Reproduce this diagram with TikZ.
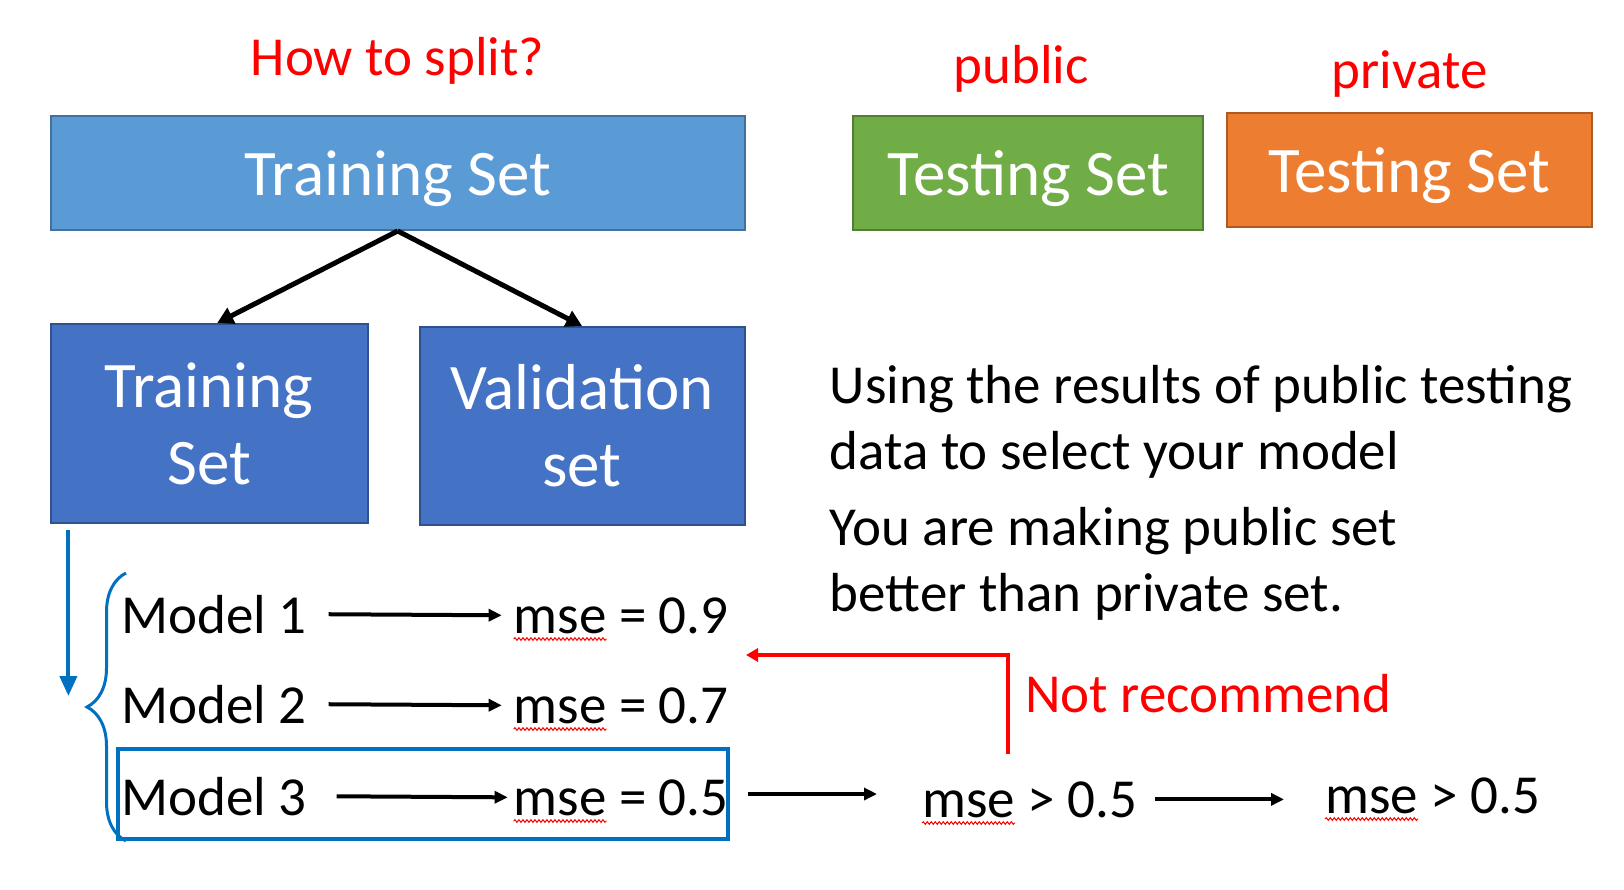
\documentclass[tikz,border=0pt]{standalone}
\usepackage{fontspec}
\setmainfont{Carlito}
\usepackage{tikz}
\usetikzlibrary{arrows.meta,positioning,decorations.pathreplacing,decorations.pathmorphing}
\definecolor{tsblue}{HTML}{5B9BD5}
\definecolor{tsedge}{HTML}{41719C}
\definecolor{spblue}{HTML}{4472C4}
\definecolor{spedge}{HTML}{2F528F}
\definecolor{pubgreen}{HTML}{70AD47}
\definecolor{pubedge}{HTML}{507E32}
\definecolor{prvorange}{HTML}{ED7D31}
\definecolor{prvedge}{HTML}{AE5A21}
\definecolor{selblue}{HTML}{0070C0}
\tikzset{
  tset/.style   = {rectangle, draw=tsedge, line width=2pt, fill=tsblue, text=white,
                   align=center, font=\fontsize{65}{77}\selectfont, inner sep=0pt},
  tsplit/.style = {tset, draw=spedge, fill=spblue},
  tpub/.style   = {tset, draw=pubedge, fill=pubgreen},
  tprv/.style   = {tset, draw=prvedge, fill=prvorange},
  lbl/.style    = {text=red, font=\fontsize{55}{66}\selectfont, inner sep=0pt},
  mtxt/.style   = {font=\fontsize{55}{66}\selectfont, inner sep=0pt, anchor=base west},
  txt/.style    = {font=\fontsize{55}{66}\selectfont, inner sep=0pt, align=left, anchor=base west},
  selbox/.style = {rectangle, draw=selblue, line width=4pt},
  fl/.style     = {-{Triangle[length=16pt,width=17pt]}, line width=5pt, black},
  fs/.style     = {-{Triangle[length=13pt,width=12pt]}, line width=4pt, black},
  flb/.style    = {-{Triangle[length=20pt,width=17pt]}, line width=4pt, selblue},
  flr/.style    = {-{Triangle[length=12pt,width=13pt]}, line width=4pt, red},
  brc/.style    = {decorate, decoration={brace, amplitude=39pt}, line width=3pt, selblue},
  sq/.style     = {decorate, decoration={snake, amplitude=1.3pt, segment length=4pt}, line width=1pt, red},
}
\begin{document}
\begin{tikzpicture}[x=1pt, y=-1pt]
  \useasboundingbox (0,0) rectangle (1624,889);

  \node[tset, text depth=0pt, minimum width=694pt, minimum height=114pt] (top) at (397.7,173) {Training Set};
  \node[lbl, above=30pt of top] (how) {How to split?};

  \node[tsplit, minimum width=317pt, minimum height=199pt] (trn) at (209.2,423.5) {Training\\ Set};
  \node[tsplit, minimum width=325pt, minimum height=198pt] (val) at (582.1,426) {Validation\\ set};

  \node[tpub, text depth=0pt, minimum width=350pt, minimum height=114pt] (pub) at (1028.3,173) {Testing Set};
  \node[tprv, text depth=0pt, minimum width=365pt, minimum height=114pt] (prv) at (1409.5,170) {Testing Set};
  \node[lbl, above=22pt of pub, xshift=-7pt] (publbl) {public};
  \node[lbl, above=14pt of prv] (prvlbl) {private};

  \node[txt] (par1) at (829.6,469) {Using the results of public testing\\ data to select your model};
  \node[txt] (par2) at (829.6,611) {You are making public set\\ better than private set.};

  \node[mtxt] (m1) at (121,633) {Model 1};
  \node[mtxt] (m2) at (121,723) {Model 2};
  \node[mtxt] (m3) at (121,815) {Model 3};
  \node[mtxt] (r1) at (513.7,633) {mse = 0.9};
  \node[mtxt] (r2) at (513.7,723) {mse = 0.7};
  \node[mtxt] (r3) at (513.7,815) {mse = 0.5};
  \node[selbox, minimum width=610pt, minimum height=90pt] (sel) at (423,794) {};

  \node[mtxt] (g1) at (922,817) {mse > 0.5};
  \node[mtxt] (g2) at (1325,813) {mse > 0.5};
  \node[lbl, anchor=base west] (nr) at (1025,712) {Not recommend};

  \coordinate (bd0) at (68.4,530);
  \coordinate (bd1) at (68.4,696);
  \coordinate (br0) at (126,841);
  \coordinate (br1) at (126,573);
  \coordinate (rs) at (1008,754);
  \coordinate (rt) at (746,655);

  \draw[fl] (top.south) -- ([xshift=8pt]trn.north);
  \draw[fl] (top.south) -- (val.north);
  \draw[flb] (bd0) -- (bd1);
  \draw[brc] (br0) -- (br1);
  \draw[fs, shorten <=22pt, shorten >=12pt] (m1.east) -- (r1.west);
  \draw[fs, shorten <=22pt, shorten >=12pt] (m2.east) -- (r2.west);
  \draw[fs, shorten <=30pt, shorten >=6pt] (m3.east) -- (r3.west);
  \draw[fs, shorten <=18pt, shorten >=45pt] (sel.east) -- (sel.east -| g1.west);
  \draw[fs, shorten <=18pt, shorten >=41pt] (g1.east) -- (g1.east -| g2.west);
  \draw[flr] (rs) |- (rt);
  \foreach \n in {r1,r2,r3,g1,g2}
    \draw[sq] ([yshift=-6pt]\n.base west) -- ++(93,0);

\end{tikzpicture}
\end{document}
